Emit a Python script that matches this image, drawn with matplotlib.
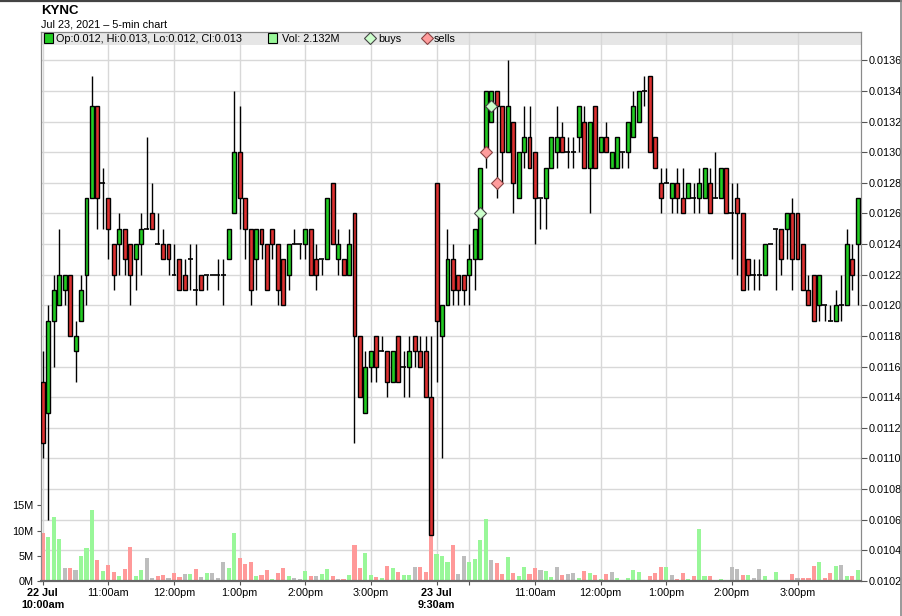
import matplotlib
matplotlib.use("Agg")
import matplotlib.pyplot as plt
from matplotlib.patches import Rectangle
from matplotlib.lines import Line2D
import numpy as np

plt.rcParams['font.family'] = ['Liberation Sans', 'DejaVu Sans']

# 5-min candles, prices in units of 0.0001
# 22 Jul 10:00am - 3:55pm (0..71), 23 Jul 9:30am - 3:55pm (72..149)
opens = [115, 113, 119, 120, 121, 122, 117, 119, 122, 127, 133, 128, 127, 124, 124, 125, 124, 123, 124, 125,
         126, 124, 124, 124, 122, 123, 122, 123, 121, 122, 122, 122, 122, 122, 123, 126, 130, 127, 125, 123,
         125, 124, 125, 124, 123, 122, 124, 124, 124, 125, 123, 123, 123, 128, 123, 123, 122, 126, 118, 113,
         116, 118, 117, 117, 115, 118, 116, 116, 118, 117, 117, 114,
         128, 118, 120, 123, 122, 122, 122, 123, 123, 130, 132, 134, 133, 130, 132, 127, 130, 131,
         130, 127, 127, 129, 130, 131, 130, 130, 131, 132, 129, 133, 130, 131, 129, 129, 130, 130,
         131, 132, 134, 135, 131, 128, 128, 127, 128, 127, 127, 127, 127, 127, 128, 127, 127, 129,
         126, 127, 126, 123, 122, 122, 122, 124, 125, 125, 125, 126, 126, 124, 121, 122, 120, 120,
         119, 119, 120, 120, 123, 124]
highs = [117, 120, 122, 125, 122, 122, 119, 122, 127, 135, 133, 129, 127, 124, 126, 125, 124, 124, 126, 131,
         128, 126, 125, 124, 124, 123, 123, 124, 124, 122, 122, 122, 123, 123, 125, 134, 133, 127, 125, 125,
         125, 124, 125, 124, 123, 124, 125, 124, 125, 125, 124, 123, 127, 128, 125, 123, 125, 126, 118, 117,
         117, 118, 118, 117, 117, 118, 117, 118, 118, 118, 118, 118,
         128, 120, 125, 124, 122, 122, 124, 125, 129, 134, 134, 134, 133, 136, 132, 130, 133, 133,
         130, 127, 129, 131, 133, 132, 131, 131, 133, 133, 132, 133, 131, 132, 130, 131, 130, 132,
         134, 134, 135, 135, 131, 129, 129, 128, 129, 129, 128, 128, 129, 129, 129, 130, 129, 129,
         128, 128, 126, 123, 123, 123, 124, 124, 125, 125, 126, 127, 126, 124, 122, 122, 122, 120,
         120, 121, 122, 125, 124, 127]
lows = [110, 106, 116, 120, 120, 118, 115, 119, 120, 127, 125, 125, 123, 121, 122, 122, 120, 121, 122, 125,
        125, 124, 123, 122, 122, 121, 121, 121, 120, 121, 121, 122, 121, 120, 123, 126, 125, 123, 120, 121,
        123, 121, 123, 120, 120, 121, 124, 123, 123, 122, 121, 122, 123, 124, 122, 122, 122, 111, 114, 113,
        115, 115, 117, 114, 115, 115, 114, 114, 116, 116, 114, 105,
        115, 110, 120, 120, 120, 120, 120, 121, 123, 129, 132, 127, 128, 130, 126, 127, 129, 129,
        124, 125, 125, 129, 129, 130, 129, 129, 130, 129, 126, 129, 130, 130, 129, 129, 129, 129,
        131, 132, 133, 130, 129, 126, 128, 126, 126, 126, 127, 126, 126, 127, 126, 127, 127, 126,
        123, 122, 121, 121, 121, 121, 122, 124, 121, 122, 123, 121, 123, 121, 120, 119, 119, 119,
        119, 119, 119, 120, 121, 120]
closes = [111, 119, 121, 122, 122, 118, 118, 121, 127, 133, 127, 128, 125, 122, 125, 123, 122, 124, 125, 125,
          125, 124, 123, 123, 122, 121, 121, 123, 121, 121, 122, 122, 122, 122, 125, 130, 127, 125, 121, 125,
          124, 121, 124, 121, 120, 124, 124, 124, 125, 122, 122, 123, 127, 124, 124, 122, 124, 118, 114, 116,
          117, 116, 117, 115, 117, 115, 116, 117, 117, 116, 114, 105,
          119, 120, 123, 121, 121, 121, 123, 125, 129, 134, 134, 133, 130, 133, 128, 130, 131, 129,
          127, 127, 129, 131, 131, 130, 130, 130, 133, 129, 132, 129, 131, 130, 130, 131, 130, 132,
          133, 134, 134, 130, 129, 127, 128, 128, 127, 126, 128, 127, 128, 129, 126, 127, 129, 126,
          126, 126, 121, 122, 122, 122, 124, 124, 125, 123, 126, 123, 123, 121, 120, 119, 122, 120,
          119, 120, 120, 124, 122, 127]
# volume in millions of shares
volume_m = [9.5, 8.75, 12.7, 8.4, 2.6, 2.6, 2.2, 4.9, 6.5, 14.0, 4.1, 2.0, 3.2, 1.8, 1.0, 2.4, 6.7, 1.0, 2.2, 4.5,
            0.6, 1.0, 1.2, 0.6, 1.6, 0.8, 1.4, 1.4, 2.4, 0.8, 1.6, 1.6, 0.6, 3.8, 2.6, 9.5, 4.5, 3.4, 3.8, 1.0,
            1.2, 2.2, 0.4, 1.6, 2.6, 1.0, 0.6, 0.4, 2.0, 1.0, 1.0, 1.4, 2.4, 1.0, 0.4, 0.4, 1.2, 7.1, 2.6, 5.5,
            1.2, 0.8, 0.6, 3.0, 2.6, 1.8, 1.2, 1.2, 2.8, 2.8, 1.8, 9.6,
            5.3, 4.9, 3.75, 7.1, 1.4, 4.9, 3.75, 4.3, 8.1, 12.2, 4.1, 3.55, 1.4, 4.7, 1.6, 1.0, 2.8, 1.4,
            2.6, 2.2, 2.0, 0.8, 2.8, 1.26, 1.46, 1.66, 0.66, 2.05, 1.66, 1.26, 0.4, 1.46, 1.85, 0.66, 0.26, 0.66,
            2.25, 1.85, 0.26, 1.06, 1.66, 2.85, 2.85, 1.26, 0.4, 1.66, 0.4, 1.06, 10.3, 1.06, 1.06, 0.2, 0.4, 0.2,
            2.85, 2.45, 1.26, 1.26, 0.66, 2.45, 1.06, 0.0, 1.85, 0.2, 0.2, 1.46, 0.66, 0.66, 0.66, 3.05, 3.84, 0.66,
            1.66, 3.05, 3.25, 1.06, 1.06, 2.25]

buy_idx = [80, 82]
buy_px = [126, 133]
sell_idx = [81, 83]
sell_px = [130, 128]

tick_pos = [0, 12, 24, 36, 48, 60, 72, 78, 90, 102, 114, 126, 138]
tick_labels = ["22 Jul\n10:00am", "11:00am", "12:00pm", "1:00pm", "2:00pm", "3:00pm",
               "23 Jul\n9:30am", "", "11:00am", "12:00pm", "1:00pm", "2:00pm", "3:00pm"]

legend_ohlc = "Op:0.012, Hi:0.013, Lo:0.012, Cl:0.013"
legend_vol = "Vol: 2.132M"


def main():
    o = np.array(opens) / 1e4
    h = np.array(highs) / 1e4
    l = np.array(lows) / 1e4
    c = np.array(closes) / 1e4
    v = np.array(volume_m) * 1e6
    x = np.arange(len(o))

    green = '#22cc22'
    red = '#dd3030'
    grid_c = '#d8d8d8'
    W, H = 902, 616

    fig = plt.figure(figsize=(W / 100, H / 100), dpi=100)
    left, right, top, bottom = 40.7, 860.7, 32, 581
    axv = fig.add_axes([left / W, 1 - bottom / H, (right - left) / W, (bottom - top) / H])
    ax = axv.twinx()

    # volume (left axis)
    prev = np.concatenate([[o[0]], c[:-1]])
    vcol = np.where(c > prev, '#99f799', np.where(c < prev, '#ff9999', '#bdbdbd'))
    axv.bar(x, v, width=0.75, color=vcol, zorder=1)
    axv.set_ylim(0, 108.9e6)
    axv.set_yticks([0, 5e6, 10e6, 15e6])
    axv.set_yticklabels(['0M', '5M', '10M', '15M'])
    axv.set_xlim(-0.37, 149.55)
    axv.set_xticks(tick_pos)
    axv.set_xticklabels(tick_labels)
    for t in axv.get_xticklabels():
        if "Jul" in t.get_text():
            t.set_fontweight('bold')
    axv.set_axisbelow(True)
    axv.grid(axis='x', color=grid_c, lw=1)
    axv.tick_params(axis='both', labelsize=7.8, length=3, color='#555555', pad=2)

    # legend strip
    axv.add_patch(Rectangle((0, (bottom - 45) / (bottom - top)), 1, 1, transform=axv.transAxes,
                            fc='#e6e6e6', ec='none', zorder=0.2))

    # price
    ax.set_ylim(0.010204, 0.013785)
    pticks = np.arange(102, 137, 2) / 1e4
    ax.set_yticks(pticks)
    ax.set_yticklabels([f"{p:.4f}" for p in pticks])
    ax.tick_params(axis='y', labelsize=7.8, length=4, color='#555555', pad=2)
    for p in pticks:
        axv.plot([0, 1], [p, p], transform=ax.get_yaxis_transform(), color=grid_c, lw=1, zorder=0.5)

    ax.vlines(x, l, h, color='black', lw=1, zorder=2)
    body = c != o
    up = c > o
    ax.bar(x[body], np.abs(c - o)[body], bottom=np.minimum(o, c)[body], width=0.72,
           color=np.where(up, green, red)[body], edgecolor='black', lw=1, zorder=3)
    doji = ~body
    ax.hlines(c[doji], x[doji] - 0.45, x[doji] + 0.45, color='black', lw=1.2, zorder=3)

    ax.plot(buy_idx, np.array(buy_px) / 1e4, 'D', ms=6, mfc='#ccffcc', mec='#444444', mew=0.8, zorder=4)
    ax.plot(sell_idx, np.array(sell_px) / 1e4, 'D', ms=6, mfc='#ff9c9c', mec='#884444', mew=0.8, zorder=4)

    for a in (ax, axv):
        for s in a.spines.values():
            s.set_color('#8a8a8a')
        a.spines['bottom'].set_color('#666666')
        a.spines['bottom'].set_linewidth(1.5)

    # titles and legend
    fig.text(left / W, 1 - 13.5 / H, "KYNC", fontsize=9.5, fontweight='bold')
    fig.text(left / W, 1 - 27.5 / H, "Jul 23, 2021 \u2013 5-min chart", fontsize=7.8)
    ly = 1 - 38.5 / H
    fig.add_artist(Rectangle((44 / W, 1 - 42.5 / H), 9 / W, 9 / H, transform=fig.transFigure,
                             fc=green, ec='black', lw=0.8))
    fig.text(56 / W, ly, legend_ohlc, fontsize=7.8, va='center')
    fig.add_artist(Rectangle((268 / W, 1 - 42.5 / H), 9 / W, 9 / H, transform=fig.transFigure,
                             fc='#99f799', ec='black', lw=0.8))
    fig.text(282 / W, ly, legend_vol, fontsize=7.8, va='center')
    fig.add_artist(Line2D([370 / W], [1 - 38 / H], marker='D', ms=6, mfc='#ccffcc', mec='#444444',
                          mew=0.8, transform=fig.transFigure))
    fig.text(378 / W, ly, "buys", fontsize=7.8, va='center')
    fig.add_artist(Line2D([426.5 / W], [1 - 38 / H], marker='D', ms=6, mfc='#ff9c9c', mec='#884444',
                          mew=0.8, transform=fig.transFigure))
    fig.text(434 / W, ly, "sells", fontsize=7.8, va='center')

    # window frame
    fig.add_artist(Line2D([0, 1], [1 - 0.8 / H, 1 - 0.8 / H], color='#444444', lw=1.6,
                          transform=fig.transFigure))
    fig.add_artist(Line2D([900.5 / W, 900.5 / W], [0, 1], color='#888888', lw=1.2,
                          transform=fig.transFigure))

    fig.savefig("out.png", dpi=100)


if __name__ == "__main__":
    main()
